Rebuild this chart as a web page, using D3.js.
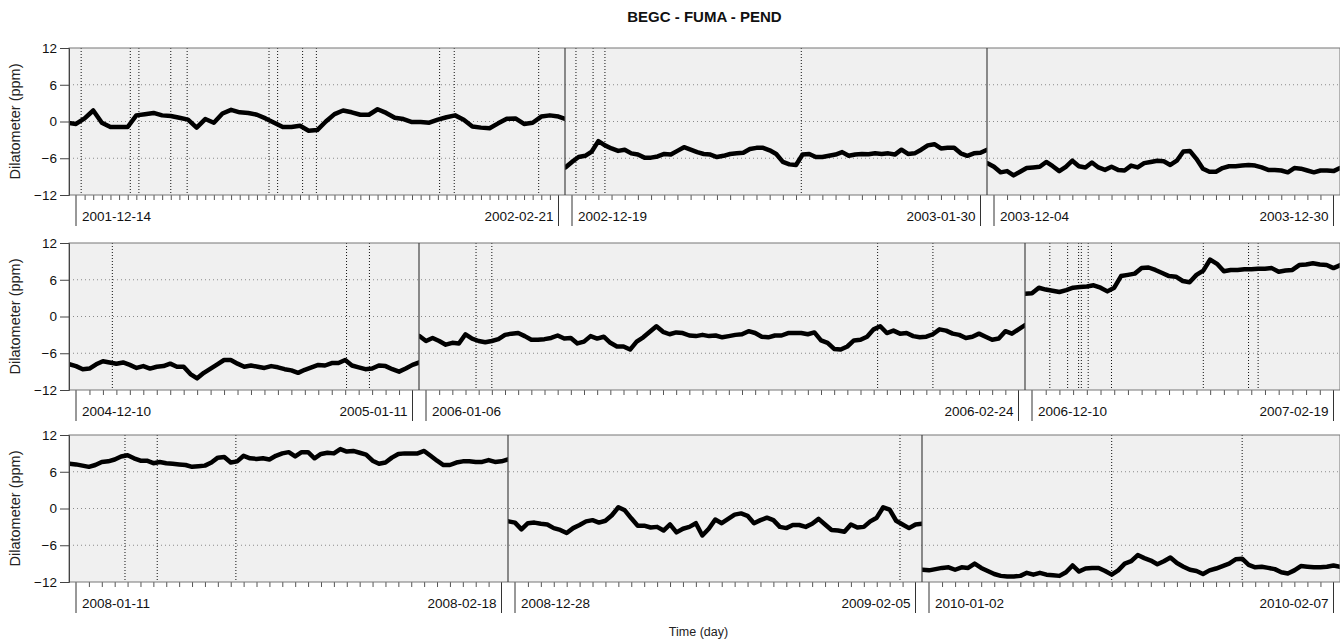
<!DOCTYPE html>
<html>
<head>
<meta charset="utf-8">
<script src="https://cdnjs.cloudflare.com/ajax/libs/d3/7.8.5/d3.min.js"></script>
<style>
  body { margin: 0; background: #fff; }
  text { font-family: Arial, "Liberation Sans", sans-serif; }
</style>
</head>
<body>
<div id="wrapper"></div>
<script>
// 1. Data
const title = "BEGC - FUMA - PEND"
const yLabel = "Dilatometer (ppm)"
const xLabel = "Time (day)"
const yTicks = [-12, -6, 0, 6, 12]
const gridValues = [-6, 0, 6]

const startLabels = ["2001-12-14", "2002-12-19", "2003-12-04",
  "2004-12-10", "2006-01-06", "2006-12-10",
  "2008-01-11", "2008-12-28", "2010-01-02"]
const endLabels = ["2002-02-21", "2003-01-30", "2003-12-30",
  "2005-01-11", "2006-02-24", "2007-02-19",
  "2008-02-18", "2009-02-05", "2010-02-07"]
// number of day ticks between the first and the last date of each window
const tickCounts = [56, 31, 26, 25, 45, 22, 33, 31, 31]
// spacing (in tick units) of the readings below, first reading at -1
const sampleSteps = [1, 0.5, 0.5, 0.5, 0.5, 0.5, 0.5, 0.5, 0.5]

// event markers (tick units from the first date)
const events = [
  [0.6, 6.3, 7.3, 11.0, 12.9, 22.4, 23.4, 26.3, 27.9, 42.2, 43.9, 53.7],
  [0.3, 1.6, 2.5, 17.4],
  [],
  [2.7, 20.1, 21.8],
  [3.8, 5.0, 34.3, 38.5],
  [1.3, 2.6, 3.4, 3.6, 4.1, 5.8, 12.5, 15.8, 16.5],
  [3.8, 6.3, 12.4],
  [29.8],
  [14.0, 24.0]
]

const dil2001 = [-0.2, -0.4, 0.5, 1.8, -0.2, -0.9, -0.9, -0.9, 1.0, 1.2, 1.4, 1.0, 0.9, 0.6, 0.3,
  -1.0, 0.4, -0.2, 1.3, 1.9, 1.5, 1.4, 1.1, 0.5, -0.2, -0.9, -0.9, -0.7, -1.5, -1.4, 0.0, 1.2,
  1.8, 1.5, 1.1, 1.1, 2.0, 1.4, 0.6, 0.4, -0.1, -0.1, -0.2, 0.3, 0.7, 1.0, 0.3, -0.8, -1.0, -1.1,
  -0.3, 0.45, 0.5, -0.4, -0.2, 0.8, 1.0, 0.8, 0.3]
const dil2002 = [-7.8, -7.5, -6.6, -5.8, -5.6, -4.9, -3.2, -3.9, -4.4, -4.8, -4.6, -5.2, -5.4,
  -5.9, -5.9, -5.7, -5.3, -5.4, -4.8, -4.2, -4.6, -5.0, -5.3, -5.4, -5.8, -5.6, -5.3, -5.2, -5.1,
  -4.5, -4.3, -4.3, -4.7, -5.3, -6.6, -7.0, -7.1, -5.4, -5.3, -5.8, -5.8, -5.6, -5.4, -5.0, -5.6,
  -5.4, -5.3, -5.35, -5.2, -5.3, -5.2, -5.4, -4.6, -5.3, -5.2, -4.6, -3.9, -3.7, -4.4, -4.3, -4.3,
  -5.2, -5.6, -5.2, -5.1, -4.6, -4.6]
const dil2003 = [-6.8, -6.8, -7.4, -8.3, -8.1, -8.8, -8.2, -7.6, -7.5, -7.4, -6.6, -7.3, -8.1,
  -7.4, -6.4, -7.3, -7.5, -6.7, -7.5, -7.9, -7.4, -7.9, -8.0, -7.2, -7.5, -6.8, -6.6, -6.4, -6.5,
  -7.1, -6.4, -4.9, -4.8, -6.1, -7.7, -8.2, -8.2, -7.6, -7.3, -7.3, -7.2, -7.1, -7.2, -7.5, -7.9,
  -7.9, -8.0, -8.3, -7.6, -7.7, -8.0, -8.3, -8.0, -8.0, -8.1, -7.6, -7.5]
const dil2004 = [-7.8, -7.8, -8.1, -8.6, -8.5, -7.8, -7.3, -7.5, -7.7, -7.5, -7.9, -8.4, -8.1,
  -8.5, -8.2, -8.1, -7.7, -8.2, -8.2, -9.4, -10.1, -9.2, -8.5, -7.8, -7.1, -7.1, -7.7, -8.2, -8.0,
  -8.2, -8.4, -8.1, -8.3, -8.6, -8.8, -9.2, -8.7, -8.3, -7.9, -8.0, -7.6, -7.6, -7.1, -8.0, -8.3,
  -8.6, -8.5, -8.0, -8.1, -8.6, -9.0, -8.5, -7.9, -7.5, -7.5]
const dil2006 = [-3.1, -3.2, -4.0, -3.5, -4.0, -4.6, -4.3, -4.4, -2.9, -3.6, -4.0, -4.2, -4.0,
  -3.7, -3.0, -2.8, -2.7, -3.2, -3.8, -3.8, -3.7, -3.5, -3.1, -3.6, -3.5, -4.4, -4.1, -3.2, -3.6,
  -3.3, -4.3, -4.9, -4.9, -5.4, -4.1, -3.4, -2.5, -1.6, -2.5, -2.9, -2.6, -2.7, -3.1, -3.2, -3.0,
  -3.2, -3.1, -3.4, -3.2, -3.0, -2.9, -2.4, -2.7, -3.3, -3.4, -3.1, -3.1, -2.7, -2.7, -2.7, -2.9,
  -2.6, -3.9, -4.3, -5.3, -5.4, -4.9, -3.9, -3.8, -3.3, -2.1, -1.6, -2.7, -2.3, -2.8, -2.7, -3.2,
  -3.4, -3.3, -2.9, -2.1, -2.3, -2.8, -3.0, -3.5, -3.3, -2.8, -3.3, -3.8, -3.6, -2.4, -2.8, -2.1,
  -1.4, -1.4]
const dil2007 = [3.7, 3.7, 3.8, 4.7, 4.4, 4.2, 4.0, 4.3, 4.7, 4.8, 4.9, 5.1, 4.7, 4.1, 4.7, 6.6,
  6.8, 7.0, 7.9, 8.0, 7.6, 7.1, 6.6, 6.5, 5.8, 5.6, 6.8, 7.5, 9.3, 8.6, 7.4, 7.6, 7.6, 7.7, 7.7,
  7.8, 7.8, 7.9, 7.3, 7.5, 7.6, 8.4, 8.5, 8.7, 8.5, 8.4, 7.9, 8.4, 8.4]
const dil2008 = [7.3, 7.3, 7.2, 7.0, 6.8, 7.1, 7.6, 7.7, 8.0, 8.5, 8.7, 8.2, 7.8, 7.8, 7.4, 7.6,
  7.4, 7.3, 7.2, 7.1, 6.8, 6.9, 7.0, 7.5, 8.3, 8.4, 7.5, 7.7, 8.6, 8.2, 8.1, 8.2, 8.0, 8.6, 9.0,
  9.2, 8.5, 9.2, 9.2, 8.2, 8.9, 9.1, 9.0, 9.7, 9.3, 9.4, 9.1, 8.8, 7.8, 7.3, 7.5, 8.3, 8.9, 9.0,
  9.0, 9.0, 9.4, 8.6, 7.8, 7.1, 7.1, 7.5, 7.7, 7.7, 7.6, 7.6, 7.9, 7.6, 7.7, 8.0, 8.0]
const dil2009 = [-2.1, -2.1, -2.3, -3.4, -2.4, -2.3, -2.5, -2.6, -3.2, -3.5, -4.0, -3.2, -2.7,
  -2.1, -1.9, -2.3, -2.0, -1.1, 0.2, -0.3, -1.6, -2.8, -2.8, -3.1, -3.0, -3.6, -2.6, -3.9, -3.3,
  -3.0, -2.4, -4.4, -3.3, -1.8, -2.4, -1.7, -1.0, -0.8, -1.2, -2.4, -1.9, -1.5, -1.9, -3.0, -3.2,
  -2.7, -2.7, -3.0, -2.5, -1.7, -2.6, -3.5, -3.6, -3.8, -2.6, -3.1, -3.0, -2.1, -1.5, 0.2, -0.2,
  -2.0, -2.6, -3.2, -2.6, -2.5, -2.5]
const dil2010 = [-10.0, -10.0, -10.1, -9.9, -9.7, -9.6, -10.0, -9.6, -9.7, -9.0, -9.7, -10.2,
  -10.7, -11.0, -11.1, -11.1, -11.0, -10.5, -10.8, -10.5, -10.8, -10.9, -11.0, -10.4, -9.3, -10.3,
  -9.8, -9.7, -9.7, -10.2, -10.8, -10.1, -9.0, -8.6, -7.6, -8.1, -8.5, -9.1, -8.6, -8.0, -8.9,
  -9.5, -10.0, -10.2, -10.7, -10.1, -9.8, -9.4, -9.0, -8.3, -8.2, -9.2, -9.6, -9.5, -9.7, -9.9,
  -10.4, -10.6, -10.1, -9.4, -9.5, -9.6, -9.6, -9.5, -9.3, -9.5, -9.5]

const seriesList = [dil2001, dil2002, dil2003, dil2004, dil2006, dil2007, dil2008, dil2009, dil2010]

// 2. Chart dimensions
const dimensions = {
  width: 1340,
  height: 642,
  rowTops: [48, 243, 435],
  rowHeight: 147,
  // panel edges of each row (left, breaks, right)
  panelEdges: [
    [69, 565, 987, 1340],
    [69, 419, 1025, 1340],
    [69, 508, 922, 1340]
  ],
  tickInsetLeft: 7,
  tickInsetRight: 6.5
}

// 3. Draw canvas
const wrapper = d3.select("#wrapper")
  .append("svg")
  .attr("width", dimensions.width)
  .attr("height", dimensions.height)
  .style("background", "#fff")

const plotLeft = dimensions.panelEdges[0][0]
const plotRight = dimensions.panelEdges[0][3]

wrapper.append("text")
  .attr("x", (plotLeft + plotRight) / 2)
  .attr("y", 22)
  .attr("text-anchor", "middle")
  .style("font-size", "15px")
  .style("font-weight", "bold")
  .attr("fill", "#111")
  .text(title)

wrapper.append("text")
  .attr("x", (plotLeft + plotRight) / 2 - 6)
  .attr("y", 636)
  .attr("text-anchor", "middle")
  .style("font-size", "12.5px")
  .attr("fill", "#222")
  .text(xLabel)

const defs = wrapper.append("defs")

dimensions.rowTops.forEach((top, row) => {
  const bottom = top + dimensions.rowHeight
  const edges = dimensions.panelEdges[row]

  const yScale = d3.scaleLinear()
    .domain([-12, 12])
    .range([bottom, top])

  const rowG = wrapper.append("g")

  // background
  rowG.append("rect")
    .attr("x", edges[0])
    .attr("y", top)
    .attr("width", edges[3] - edges[0])
    .attr("height", bottom - top)
    .attr("fill", "#f0f0f0")

  // horizontal grid
  rowG.append("g")
    .selectAll("line")
    .data(gridValues)
    .join("line")
      .attr("x1", edges[0])
      .attr("x2", edges[3])
      .attr("y1", d => yScale(d))
      .attr("y2", d => yScale(d))
      .attr("stroke", "#8a8a8a")
      .attr("stroke-width", 1)
      .attr("stroke-dasharray", "1 3")

  // 4. Segments of this row
  for (let p = 0; p < 3; p++) {
    const s = row * 3 + p
    const left = edges[p]
    const right = edges[p + 1]
    const n = tickCounts[s]

    const xScale = d3.scaleLinear()
      .domain([0, n])
      .range([left + dimensions.tickInsetLeft, right - dimensions.tickInsetRight])

    const clipId = `clip-${s}`
    defs.append("clipPath")
      .attr("id", clipId)
      .append("rect")
        .attr("x", left)
        .attr("y", top - 4)
        .attr("width", right - left)
        .attr("height", bottom - top + 8)

    // event markers
    rowG.append("g")
      .selectAll("line")
      .data(events[s])
      .join("line")
        .attr("x1", d => xScale(d))
        .attr("x2", d => xScale(d))
        .attr("y1", top)
        .attr("y2", bottom)
        .attr("stroke", "#111")
        .attr("stroke-width", 1)
        .attr("stroke-dasharray", "1 2")

    // series
    const step = sampleSteps[s]
    const lineGenerator = d3.line()
      .x((d, i) => xScale(-1 + i * step))
      .y(d => yScale(d))

    rowG.append("path")
      .datum(seriesList[s])
      .attr("clip-path", `url(#${clipId})`)
      .attr("d", lineGenerator)
      .attr("fill", "none")
      .attr("stroke", "#000")
      .attr("stroke-width", 4.5)
      .attr("stroke-linejoin", "round")
      .attr("stroke-linecap", "round")

    // minor day ticks
    const xAxisGenerator = d3.axisBottom(xScale)
      .tickValues(d3.range(1, n))
      .tickSize(5)
      .tickFormat("")

    const xAxis = rowG.append("g")
      .attr("transform", `translate(0, ${bottom})`)
      .call(xAxisGenerator)
    xAxis.select(".domain").remove()
    xAxis.selectAll(".tick line").attr("stroke", "#555")

    // long ticks with first / last date
    rowG.append("g")
      .selectAll("line")
      .data([0, n])
      .join("line")
        .attr("x1", d => xScale(d))
        .attr("x2", d => xScale(d))
        .attr("y1", bottom)
        .attr("y2", bottom + 31)
        .attr("stroke", "#333")
        .attr("stroke-width", 1)

    rowG.append("text")
      .attr("x", xScale(0) + 6)
      .attr("y", bottom + 26)
      .style("font-size", "13.5px")
      .attr("fill", "#111")
      .text(startLabels[s])

    rowG.append("text")
      .attr("x", xScale(n) - 5)
      .attr("y", bottom + 26)
      .attr("text-anchor", "end")
      .style("font-size", "13.5px")
      .attr("fill", "#111")
      .text(endLabels[s])
  }

  // panel frame and breaks
  rowG.append("rect")
    .attr("x", edges[0])
    .attr("y", top)
    .attr("width", edges[3] - edges[0])
    .attr("height", bottom - top)
    .attr("fill", "none")
    .attr("stroke", "#777")
    .attr("stroke-width", 1)

  rowG.append("g")
    .selectAll("line")
    .data(edges.slice(1, 3))
    .join("line")
      .attr("x1", d => d)
      .attr("x2", d => d)
      .attr("y1", top)
      .attr("y2", bottom)
      .attr("stroke", "#444")
      .attr("stroke-width", 1.2)

  // y axis
  const yAxisGenerator = d3.axisLeft(yScale)
    .tickValues(yTicks)
    .tickSize(9)
    .tickPadding(3)

  const yAxis = rowG.append("g")
    .attr("transform", `translate(${edges[0]}, 0)`)
    .call(yAxisGenerator)
  yAxis.select(".domain").attr("stroke", "#444")
  yAxis.selectAll(".tick line").attr("stroke", "#444")
  yAxis.selectAll(".tick text")
    .style("font-size", "13.5px")
    .style("font-family", "Arial, 'Liberation Sans', sans-serif")
    .attr("fill", "#111")

  rowG.append("text")
    .attr("transform", `translate(20, ${(top + bottom) / 2}) rotate(-90)`)
    .attr("text-anchor", "middle")
    .style("font-size", "14.5px")
    .attr("fill", "#222")
    .text(yLabel)
})
</script>
</body>
</html>
